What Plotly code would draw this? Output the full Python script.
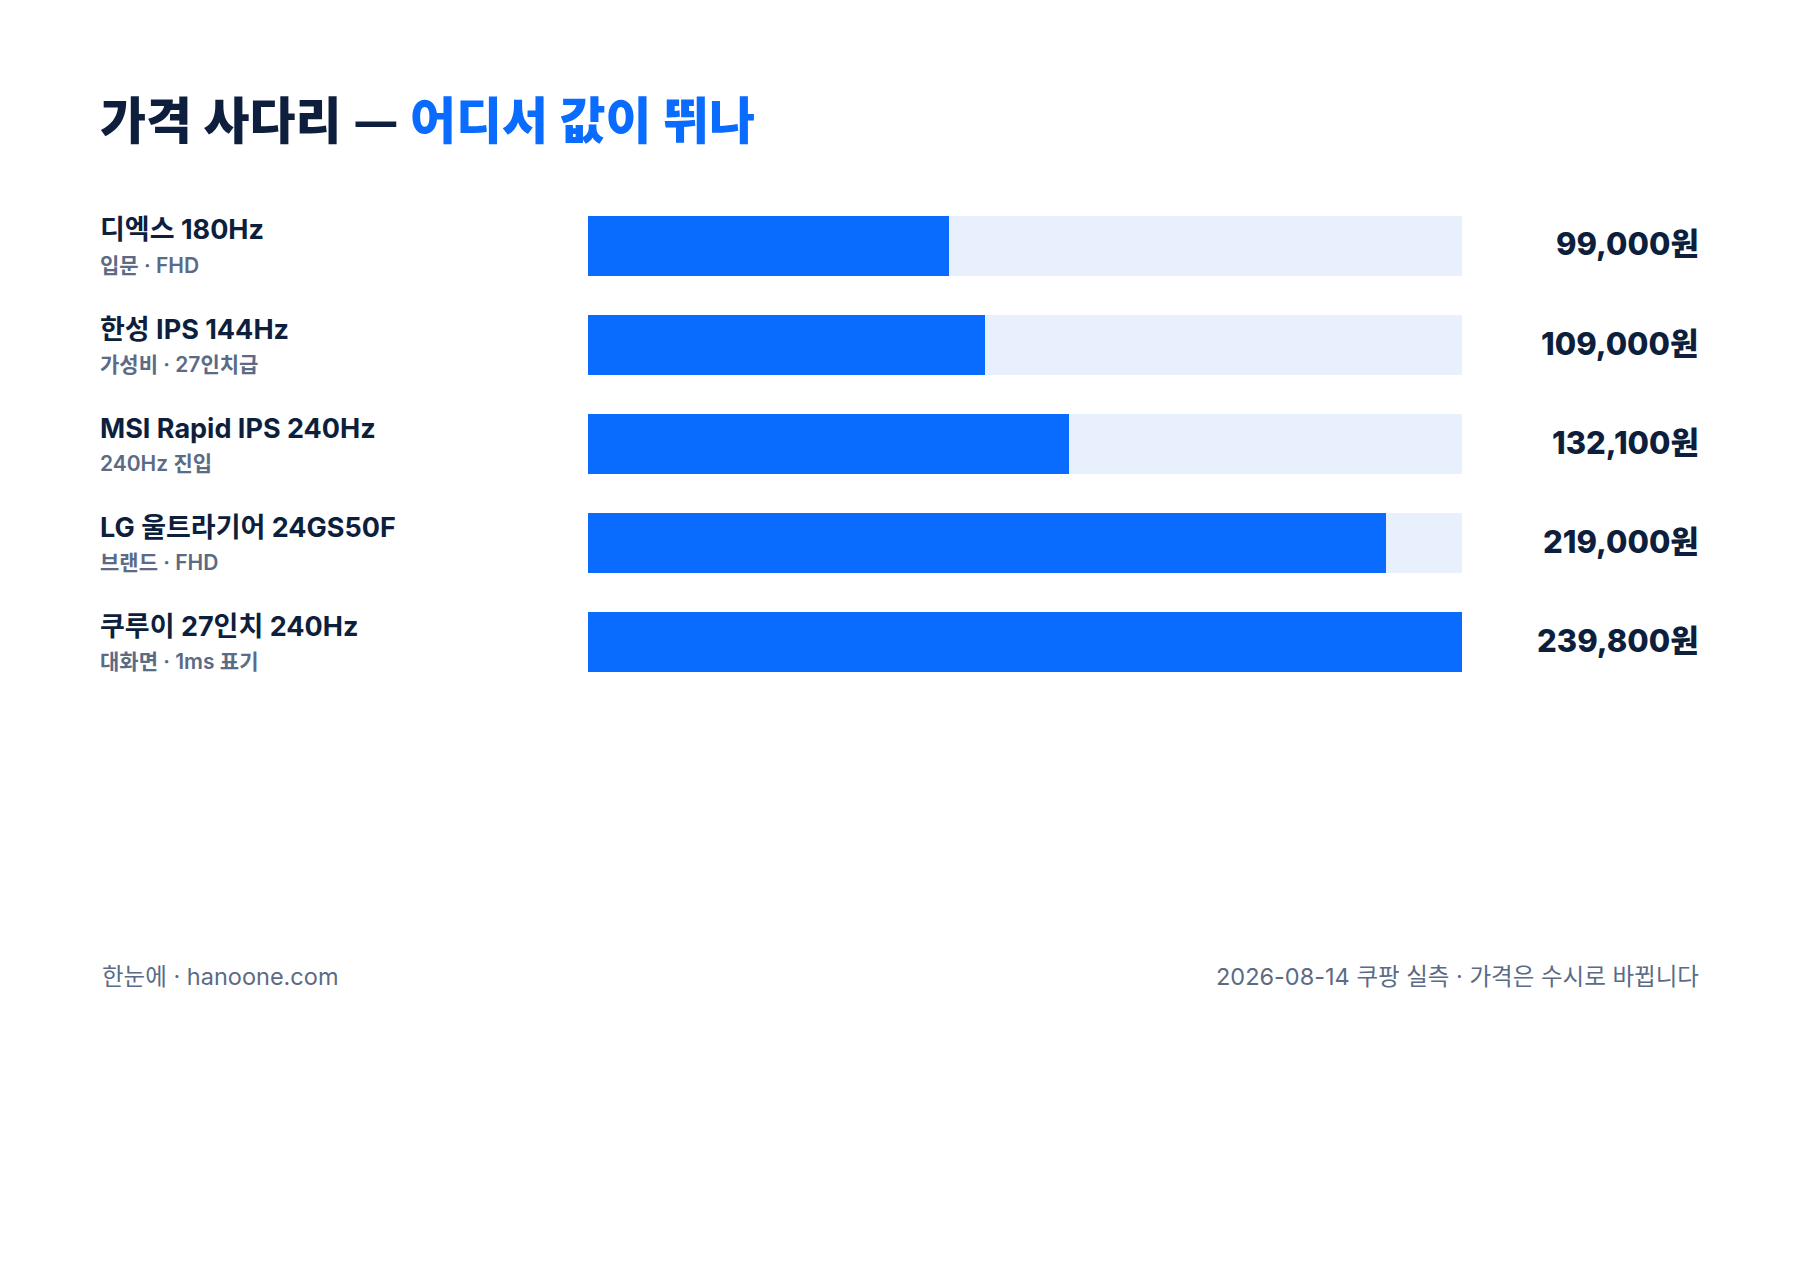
import plotly.graph_objects as go

# data
names = ['디엑스 180Hz', '한성 IPS 144Hz', 'MSI Rapid IPS 240Hz', 'LG 울트라기어 24GS50F', '쿠루이 27인치 240Hz']
subs = ['입문 · FHD', '가성비 · 27인치급', '240Hz 진입', '브랜드 · FHD', '대화면 · 1ms 표기']
prices = [99000, 109000, 132100, 219000, 239800]

title_main = '가격 사다리 — '
title_accent = '어디서 값이 뛰나'
footer_left = '한눈에 · hanoone.com'
footer_right = '2026-08-14 쿠팡 실측 · 가격은 수시로 바뀝니다'

W, H = 1800, 1272
NAVY = '#0d1f3c'
BLUE = '#0a6cff'
TRACK = '#e8f0fe'
GRAY = '#5b6b85'
FONT = 'Inter, "Noto Sans CJK KR", sans-serif'

ypos = list(range(len(names)))
top = max(prices)

fig = go.Figure()

# background track (full scale)
fig.add_trace(go.Bar(
    x=[top] * len(prices), y=ypos, orientation='h',
    marker=dict(color=TRACK, line=dict(width=0)),
    width=0.606, hoverinfo='skip', showlegend=False,
))
# price bars
fig.add_trace(go.Bar(
    x=prices, y=ypos, orientation='h',
    marker=dict(color=BLUE, line=dict(width=0)),
    width=0.606, hoverinfo='skip', showlegend=False,
))

annotations = []
for i in ypos:
    annotations.append(dict(
        x=90 / W, xref='paper', y=i, yref='y', yshift=15,
        text=names[i], showarrow=False, xanchor='left', yanchor='middle',
        font=dict(family=FONT, size=27, color=NAVY, weight=700),
    ))
    annotations.append(dict(
        x=90 / W, xref='paper', y=i, yref='y', yshift=-20,
        text=subs[i], showarrow=False, xanchor='left', yanchor='middle',
        font=dict(family=FONT, size=21, color=GRAY, weight=600),
    ))
    annotations.append(dict(
        x=1693 / W, xref='paper', y=i, yref='y', yshift=1,
        text='{:,}원'.format(prices[i]), showarrow=False, xanchor='right', yanchor='middle',
        font=dict(family=FONT, size=31, color=NAVY, weight=800),
    ))

# title
annotations.append(dict(
    x=90 / W, xref='paper', y=1 - 109 / H, yref='paper',
    text=title_main + '<span style="color:%s">%s</span>' % (BLUE, title_accent),
    showarrow=False, xanchor='left', yanchor='middle',
    font=dict(family='"Noto Sans CJK KR", sans-serif', size=50, color=NAVY, weight=900),
))
# footer
annotations.append(dict(
    x=92 / W, xref='paper', y=1 - 968 / H, yref='paper', text=footer_left,
    showarrow=False, xanchor='left', yanchor='middle',
    font=dict(family=FONT, size=23.5, color=GRAY),
))
annotations.append(dict(
    x=1693 / W, xref='paper', y=1 - 968 / H, yref='paper', text=footer_right,
    showarrow=False, xanchor='right', yanchor='middle',
    font=dict(family=FONT, size=23.5, color=GRAY),
))

fig.update_layout(
    width=W, height=H,
    margin=dict(l=0, r=0, t=0, b=0),
    paper_bgcolor='white', plot_bgcolor='white',
    barmode='overlay', bargap=0,
    xaxis=dict(domain=[580 / W, 1454 / W], range=[0, top], visible=False, fixedrange=True),
    yaxis=dict(domain=[1 - 682.5 / H, 1 - 187.5 / H], range=[4.5, -0.5], visible=False, fixedrange=True),
    annotations=annotations,
    showlegend=False,
)

fig.write_html('out.html')
